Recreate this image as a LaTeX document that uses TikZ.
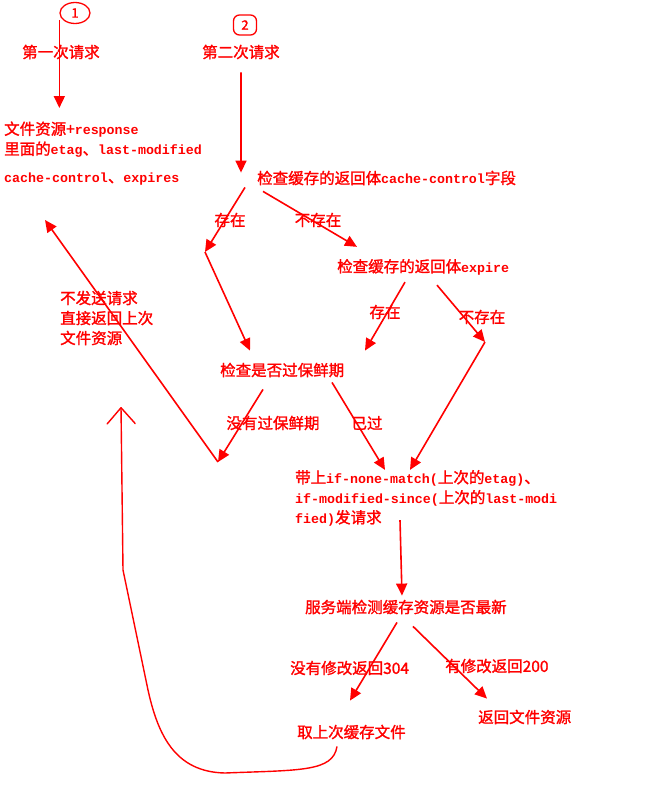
\documentclass[tikz,border=0pt]{standalone}
\usepackage{fontspec}
\setmainfont{Noto Sans CJK SC}[FakeBold=1.5]
\newfontfamily\mono{Liberation Mono}
\usepackage{tikz}
\usetikzlibrary{arrows.meta,positioning,calc,shapes.geometric}
\definecolor{pen}{HTML}{FF0000}
\newcommand{\lat}[1]{{\mono\bfseries\fontsize{13.3}{20}\selectfont #1}}

\begin{document}
\begin{tikzpicture}[x=1pt,y=-1pt]
    \tikzset{
      txt/.style={text=pen,font=\fontsize{15.5}{20}\selectfont,inner sep=0pt,anchor=west,align=left},
      lab/.style={txt,anchor=center},
      badge/.style={draw=pen,line width=1.3pt,text=pen,font=\fontsize{13}{13}\selectfont,inner sep=0pt},
      arrow/.style={-{Triangle[length=12pt,width=11pt]},draw=pen,line width=1.6pt},
      back/.style={-{Straight Barb[length=16pt,width=28pt,round]},draw=pen,line width=1.4pt}
    }
    \fill[white] (0,0) rectangle (659,800);
    \useasboundingbox (0,0) rectangle (659,800);
    \node[badge,ellipse,minimum width=30pt,minimum height=21pt] (one) at (75,13) {1};
    \node[badge,rounded corners=6pt,minimum width=23pt,minimum height=20pt] (two) at (245,25) {2};
    \node[txt] (ask1) at (22,52) {第一次请求};
    \node[txt] (ask2) at (202,52) {第二次请求};
    \node[txt] (res) at (4,139.5) {文件资源+\lat{response}\\里面的\lat{etag}、\lat{last-modified}};
    \node[txt] (hdr) at (4,179) {\lat{cache-control}、\lat{expires}};
    \node[txt] (ctrl) at (257,178) {检查缓存的返回体\lat{cache-control}字段};
    \node[txt] (expire) at (337,267) {检查缓存的返回体\lat{expire}};
    \node[txt] (fresh) at (220,370) {检查是否过保鲜期};
    \node[txt] (nosend) at (60,318) {不发送请求\\直接返回上次\\文件资源};
    \node[txt] (cond) at (295,498) {带上\lat{if-none-match(}上次的\lat{etag)}、\\\lat{if-modified-since(}上次的\lat{last-modi}\\\lat{fied)}发请求};
    \node[txt] (server) at (305,607) {服务端检测缓存资源是否最新};
    \node[txt] (cached) at (297,732) {取上次缓存文件};
    \node[txt] (full) at (478,717) {返回文件资源};
    \node[lab] (yes1) at (230,220) {存在};
    \node[lab] (no1) at (318,220) {不存在};
    \node[lab] (yes2) at (385,312) {存在};
    \node[lab] (no2) at (482,317) {不存在};
    \node[lab] (valid) at (273,423) {没有过保鲜期};
    \node[lab] (stale) at (367,423) {已过};
    \node[txt] (same) at (290,668) {没有修改返回304};
    \node[txt] (changed) at (445,666) {有修改返回200};
    \coordinate (tip1) at ([yshift=-95pt]one.west);
    \coordinate (bend1) at (205,252);
    \coordinate (bend2) at (485,342);
    \coordinate (meet) at (218,462);
    \coordinate (tip2) at (45,220);
    \coordinate (tip3) at (121,407);
    \draw[arrow] ([yshift=-7pt]one.west) -- (tip1);
    \draw[arrow] ([shift={(0,13)}]ask2.south) -- ([shift={(-16,2)}]ctrl.north west);
    \draw[arrow] ([shift={(-12,2)}]ctrl.south west) -- (bend1);
    \draw[arrow] (bend1) -- ([shift={(30,-12)}]fresh.north west);
    \draw[arrow] ([shift={(6,6)}]ctrl.south west) -- ([shift={(20,-12)}]expire.north west);
    \draw[arrow] ([shift={(68,7)}]expire.south west) -- ([shift={(145,-12)}]fresh.north west);
    \draw[arrow] ([shift={(100,10)}]expire.south west) -- (bend2);
    \draw[arrow] (bend2) -- ([shift={(115,0)}]cond.north west);
    \draw[arrow] ([shift={(43,12)}]fresh.south west) -- (meet);
    \draw[arrow] ([shift={(112,5)}]fresh.south west) -- ([shift={(90,0)}]cond.north west);
    \draw[arrow] (meet) -- (tip2);
    \draw[arrow] ([shift={(105,-6)}]cond.south west) -- ([shift={(97,-4)}]server.north west);
    \draw[arrow] ([shift={(92,8)}]server.south west) -- ([shift={(53,-24)}]cached.north west);
    \draw[arrow] ([shift={(108,12)}]server.south west) -- ([shift={(9,-11)}]full.north west);
    \draw[back] ([shift={(40,7)}]cached.south west) .. controls (333,772) and (300,770) .. (225,773)
      .. controls (175,772) and (158,735) .. (148,690) -- (123,570) -- (tip3);
  \end{tikzpicture}
\end{document}
